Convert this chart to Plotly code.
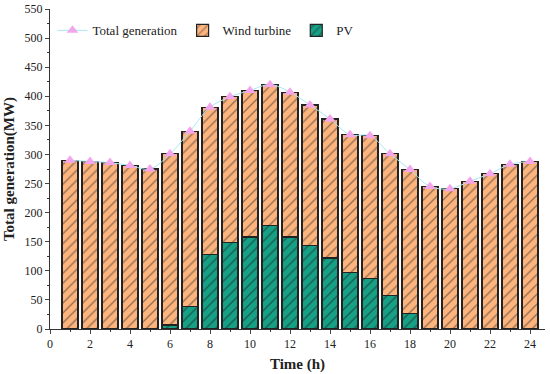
import plotly.graph_objects as go

hours = list(range(1, 25))
total = [290, 288, 286, 281, 275, 301, 340, 381, 399, 410, 420, 407,
         385, 361, 334, 332, 301, 274, 245, 241, 254, 267, 283, 288]
pv = [0, 0, 0, 0, 0, 7, 39, 128, 148, 158, 178, 158,
      143, 122, 97, 87, 57, 27, 0, 0, 0, 0, 0, 0]
wind = [t - p for t, p in zip(total, pv)]

FONT = "Liberation Serif"
ORANGE = "#FDB47D"
TEAL = "#16A085"

fig = go.Figure()
fig.add_trace(go.Bar(
    x=hours, y=pv, name="PV", width=0.8, legendrank=3,
    marker=dict(color=TEAL, line=dict(color="#222222", width=1.2),
                pattern=dict(shape="/", fgcolor="#1a1a1a", size=7, solidity=0.2)),
))
fig.add_trace(go.Bar(
    x=hours, y=wind, name="Wind turbine", width=0.8, legendrank=2,
    marker=dict(color=ORANGE, line=dict(color="#222222", width=1.2),
                pattern=dict(shape="/", fgcolor="#2a2a2a", size=7, solidity=0.2)),
))
fig.add_trace(go.Scatter(
    x=hours, y=total, name="Total generation", mode="lines+markers", legendrank=1,
    line=dict(color="#A8E8F2", width=1, shape="spline"),
    marker=dict(symbol="triangle-up", size=10, color="#F4A6EC"),
))

fig.update_layout(
    width=550, height=374,
    margin=dict(l=50, r=5, t=9, b=45, autoexpand=False),
    barmode="stack", bargap=0.2,
    plot_bgcolor="white", paper_bgcolor="white",
    font=dict(family=FONT, size=12, color="#222222"),
    showlegend=True,
    legend=dict(orientation="h", x=0.005, y=0.98, xanchor="left", yanchor="top",
                traceorder="normal",
                font=dict(family=FONT, size=13, color="#222222"),
                bgcolor="rgba(0,0,0,0)", itemwidth=30, tracegroupgap=0),
)
fig.update_xaxes(
    range=[0, 24.75], tick0=0, dtick=2, ticks="outside", ticklen=4, automargin=False,
    showline=True, linecolor="#333333", linewidth=1, showgrid=False, zeroline=False,
    minor=dict(dtick=1, tick0=0, ticks="outside", ticklen=2, tickcolor="#333333"),
    tickfont=dict(family=FONT, size=12),
    title=dict(text="<b>Time (h)</b>", font=dict(family=FONT, size=15), standoff=8),
)
fig.update_yaxes(
    range=[0, 550], tick0=0, dtick=50, ticks="outside", ticklen=4, automargin=False,
    showline=True, linecolor="#333333", linewidth=1, showgrid=False, zeroline=False,
    minor=dict(dtick=25, ticks="outside", ticklen=2, tickcolor="#333333"),
    tickfont=dict(family=FONT, size=12),
    title=dict(text="<b>Total generation(MW)</b>", font=dict(family=FONT, size=15), standoff=6),
)

fig.write_html("out.html", config={"displayModeBar": False},
               post_script="document.body.style.margin='0';document.body.style.overflow='hidden';")
